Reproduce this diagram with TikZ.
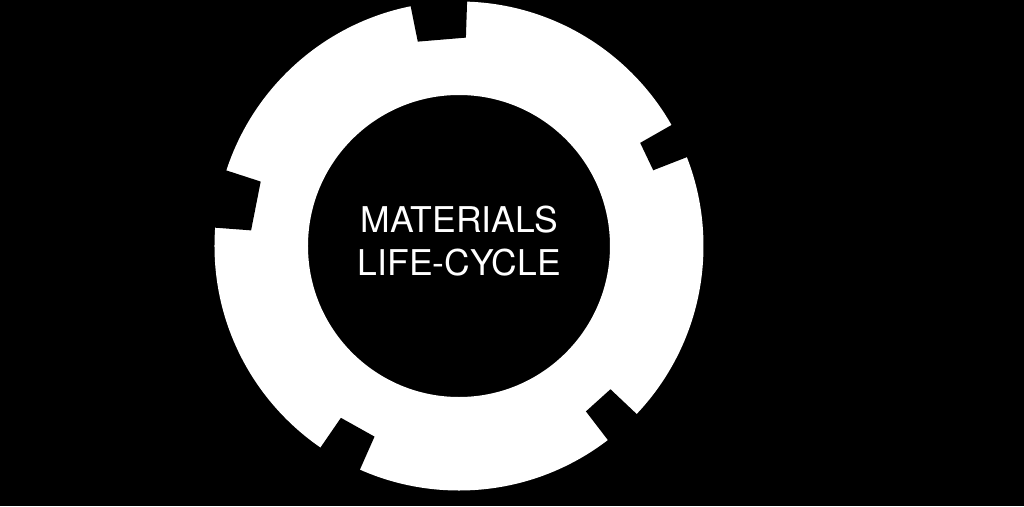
\documentclass[tikz,border=0pt]{standalone}
\usepackage{fontspec}
\setmainfont{TeX Gyre Heros}
\usepackage{tikz}

\begin{document}
\begin{tikzpicture}[every node/.style={white},
	notch/.style={fill=black}]
	\fill[black] (-9.18,-5.2) rectangle (11.3,4.92);
	\useasboundingbox (-9.18,-5.2) rectangle (11.3,4.92);
	\fill[white,even odd rule] (0,0) circle (4.89) circle (3.02);
	\foreach \a/\b in {88.1/101.4, 21.3/29.65, 162/175.7, 235.5/246.1, -52.5/-43.4}
		\fill[notch] (\a:4.17) -- (\a:5.1) -- (\b:5.1) -- (\b:4.17) -- cycle;
	\node[align=center,font=\fontsize{20.2}{24.5}\selectfont] (title) at (0.01,0.1)
		{MATERIALS\\LIFE-CYCLE};
\end{tikzpicture}
\end{document}
